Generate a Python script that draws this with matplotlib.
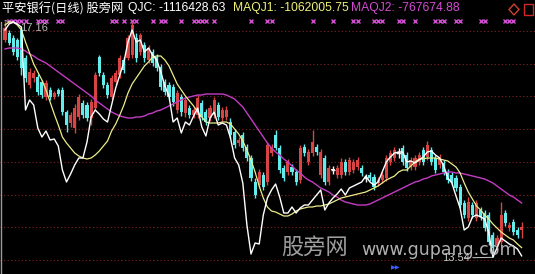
import matplotlib
matplotlib.use("Agg")
import matplotlib.pyplot as plt
import matplotlib.transforms as mtransforms
from matplotlib.lines import Line2D
from matplotlib.patches import Polygon, Rectangle
import numpy as np

# ---------------- data: 平安银行 daily bars ----------------
opens = [16.86, 16.97, 16.89, 16.86, 17.02, 16.59, 16.17, 16.28, 16.30, 16.22,
         15.99, 16.10, 15.99, 16.10, 16.10, 15.76, 15.59, 15.52, 15.69, 15.90,
         15.87, 15.67, 15.82, 16.60, 16.33, 16.17, 15.99, 16.22, 16.33, 16.56,
         16.59, 16.63, 16.89, 16.68, 16.79, 16.56, 16.68, 16.60, 16.45, 16.22,
         16.17, 16.14, 15.79, 15.99, 15.75, 15.82, 15.72, 15.72, 15.90, 15.76,
         15.67, 15.72, 15.87, 15.67, 15.69, 15.61, 15.46, 15.29, 15.41, 15.23,
         15.06, 14.69, 14.65, 14.80, 14.69, 15.13, 15.41, 15.21, 14.90, 14.84,
         14.92, 14.84, 14.72, 15.23, 15.00, 15.13, 15.23, 14.80, 15.06, 14.69,
         14.87, 14.80, 14.80, 15.00, 14.84, 14.87, 14.92, 14.90, 14.75, 14.80,
         14.77, 14.68, 14.72, 14.75, 15.00, 15.06, 15.13, 15.21, 15.10, 14.92,
         14.92, 15.00, 15.18, 15.07, 15.18, 15.06, 14.95, 14.98, 14.84, 14.80,
         14.75, 14.61, 14.37, 14.14, 14.34, 14.14, 14.26, 14.22, 14.19, 13.88,
         13.73, 13.77, 14.22, 13.99, 14.08, 13.96, 13.96]
highs = [17.16, 17.02, 16.94, 16.89, 17.06, 16.63, 16.43, 16.40, 16.34, 16.25,
         16.25, 16.14, 16.08, 16.13, 16.14, 15.79, 15.76, 15.88, 16.04, 15.94,
         15.91, 15.96, 16.37, 16.63, 16.37, 16.22, 16.33, 16.40, 16.63, 16.60,
         16.94, 17.14, 16.97, 16.97, 16.83, 16.79, 16.72, 16.65, 16.50, 16.27,
         16.22, 16.19, 16.10, 16.04, 15.99, 15.87, 15.84, 16.02, 15.94, 15.81,
         15.87, 15.99, 15.91, 15.84, 15.85, 15.67, 15.50, 15.38, 15.46, 15.27,
         15.10, 14.75, 14.89, 14.84, 15.30, 15.27, 15.49, 15.26, 14.95, 15.04,
         14.97, 14.89, 15.26, 15.27, 15.20, 15.49, 15.27, 15.20, 15.10, 14.95,
         14.94, 14.95, 15.06, 15.04, 15.07, 15.04, 15.07, 14.95, 14.81, 14.84,
         14.81, 14.77, 14.84, 15.10, 15.18, 15.23, 15.21, 15.26, 15.15, 15.07,
         15.10, 15.15, 15.23, 15.32, 15.23, 15.10, 15.12, 15.03, 14.89, 14.84,
         14.80, 14.66, 14.42, 14.46, 14.39, 14.42, 14.31, 14.26, 14.23, 13.93,
         13.88, 14.39, 14.26, 14.08, 14.13, 14.00, 14.08]
lows = [16.83, 16.79, 16.63, 16.56, 16.33, 16.22, 16.13, 16.22, 16.02, 15.98,
        15.94, 15.94, 15.96, 16.01, 15.72, 15.46, 15.53, 15.44, 15.64, 15.67,
        15.62, 15.56, 15.79, 16.31, 16.13, 15.98, 15.96, 16.17, 16.28, 16.36,
        16.56, 16.59, 16.53, 16.63, 16.53, 16.51, 16.46, 16.39, 16.10, 16.02,
        15.94, 15.85, 15.75, 15.70, 15.69, 15.67, 15.67, 15.67, 15.64, 15.56,
        15.62, 15.67, 15.64, 15.62, 15.64, 15.36, 15.21, 15.24, 15.16, 15.01,
        14.71, 14.45, 14.60, 14.57, 14.65, 15.09, 15.18, 14.83, 14.71, 14.80,
        14.80, 14.65, 14.68, 15.09, 14.95, 15.09, 15.10, 14.75, 14.65, 14.65,
        14.81, 14.75, 14.75, 14.80, 14.80, 14.83, 14.87, 14.78, 14.69, 14.71,
        14.57, 14.63, 14.68, 14.71, 14.95, 15.01, 15.06, 14.95, 14.86, 14.87,
        14.87, 14.95, 14.95, 15.03, 14.95, 14.83, 14.90, 14.80, 14.68, 14.65,
        14.55, 14.29, 14.14, 14.09, 14.14, 14.09, 14.11, 13.94, 13.73, 13.54,
        13.65, 13.73, 14.02, 13.94, 13.88, 13.84, 13.84]
closes = [17.05, 16.82, 16.68, 16.60, 16.43, 16.28, 16.37, 16.36, 16.07, 16.02,
          16.20, 15.99, 16.05, 16.04, 15.76, 15.56, 15.72, 15.82, 15.99, 15.72,
          15.67, 15.91, 16.33, 16.36, 16.17, 16.02, 16.28, 16.36, 16.59, 16.40,
          16.89, 17.09, 16.59, 16.94, 16.59, 16.74, 16.51, 16.43, 16.14, 16.07,
          15.99, 15.91, 16.05, 15.76, 15.94, 15.72, 15.79, 15.98, 15.69, 15.61,
          15.82, 15.94, 15.69, 15.79, 15.79, 15.41, 15.26, 15.33, 15.21, 15.06,
          14.75, 14.49, 14.84, 14.61, 15.26, 15.23, 15.21, 14.87, 14.75, 15.00,
          14.84, 14.69, 15.21, 15.13, 15.15, 15.30, 15.15, 15.15, 14.69, 14.90,
          14.87, 14.90, 15.00, 14.84, 15.03, 15.00, 15.03, 14.83, 14.75, 14.75,
          14.61, 14.72, 14.80, 15.06, 15.13, 15.18, 15.13, 15.00, 14.90, 15.03,
          15.06, 15.10, 15.00, 15.26, 15.00, 14.87, 15.07, 14.84, 14.72, 14.69,
          14.60, 14.34, 14.19, 14.39, 14.19, 14.37, 14.16, 13.99, 13.77, 13.68,
          13.84, 14.19, 14.06, 14.03, 13.93, 13.88, 14.00]

# indicator values, in units of 万 (1e4)
UNIT = 1e4
qjc = [37.41, 41.37, 42.69, 41.37, 39.39, -15.39, -8.79, -12.09, -27.27, -33.21,
       -29.25, -35.19, -34.53, -39.15, -54.99, -62.91, -57.63, -51.69, -47.07, -47.07,
       -36.51, -20.01, -15.39, -18.03, -21.33, -23.31, -12.09, -0.87, 7.71, 16.29,
       29.49, 37.41, 29.49, 30.81, 22.89, 25.53, 20.91, 17.61, 9.69, 0.45,
       -6.15, -23.31, -20.67, -30.57, -23.31, -25.29, -19.35, -14.07, -26.61, -32.55,
       -20.67, -16.71, -25.29, -23.97, -25.29, -33.87, -47.07, -51.69, -63.57, -91.29,
       -110.43, -103.17, -103.83, -84.69, -73.47, -68.19, -64.23, -72.81, -83.37, -83.37,
       -79.41, -83.37, -80.07, -78.09, -78.09, -74.79, -71.49, -68.19, -81.39, -76.77,
       -73.47, -70.83, -67.53, -71.49, -66.87, -65.55, -64.23, -62.91, -58.95, -62.91,
       -64.89, -62.91, -56.31, -49.71, -46.41, -43.77, -43.11, -43.11, -49.71, -49.05,
       -50.37, -48.39, -46.41, -43.11, -42.45, -45.09, -47.07, -52.35, -60.27, -63.57,
       -72.15, -80.07, -94.59, -92.61, -86.01, -84.69, -86.01, -87.33, -96.57, -112.41,
       -106.47, -99.87, -101.85, -103.83, -105.15, -107.13, -111.642863]
maqj1 = [40.71, 42.69, 42.69, 40.71, 37.41, 29.49, 22.23, 14.97, 9.69, 4.41,
         -2.19, -10.11, -18.03, -25.29, -33.21, -37.17, -40.47, -43.77, -45.75, -47.07,
         -47.73, -47.07, -45.09, -42.45, -39.15, -35.85, -29.25, -24.63, -18.69, -12.09,
         -4.17, 1.77, 5.73, 9.69, 13.65, 16.29, 19.59, 20.25, 20.25, 17.61,
         13.65, 7.71, 1.77, -2.19, -6.15, -9.45, -12.75, -16.71, -20.01, -23.31,
         -23.97, -23.97, -23.97, -23.31, -23.31, -24.63, -27.93, -31.23, -35.85, -41.79,
         -48.39, -56.31, -65.55, -73.47, -79.41, -82.05, -82.71, -84.03, -85.35, -85.35,
         -84.03, -82.05, -80.73, -80.07, -79.41, -79.41, -78.75, -78.75, -78.09, -77.43,
         -76.11, -74.79, -73.47, -72.81, -72.15, -71.49, -70.83, -70.17, -69.51, -68.19,
         -66.87, -65.55, -63.57, -61.59, -60.27, -58.95, -56.31, -54.99, -54.99, -52.35,
         -49.71, -47.73, -47.73, -47.07, -47.07, -47.07, -47.73, -48.39, -49.05, -51.03,
         -53.01, -56.97, -63.57, -69.51, -74.13, -78.75, -81.39, -84.69, -87.33, -90.63,
         -93.27, -95.91, -97.89, -99.87, -101.19, -103.83, -106.200575]
maqj2 = [24.87, 25.53, 25.53, 25.53, 24.87, 23.55, 21.57, 20.25, 18.27, 16.95,
         15.63, 13.65, 11.67, 9.69, 7.71, 5.73, 3.75, 1.77, -0.21, -2.19,
         -4.17, -6.15, -8.79, -10.77, -12.75, -14.73, -16.71, -18.03, -19.35, -20.01,
         -20.67, -20.67, -20.01, -20.01, -19.35, -18.03, -17.37, -16.05, -15.39, -14.07,
         -12.75, -11.43, -10.11, -8.79, -7.47, -6.81, -6.15, -5.49, -5.49, -4.83,
         -4.83, -4.83, -4.83, -4.83, -5.49, -6.81, -8.13, -10.77, -13.41, -17.37,
         -21.33, -25.29, -29.25, -33.21, -37.17, -40.47, -43.11, -45.09, -47.73, -49.71,
         -52.35, -54.99, -56.97, -59.61, -61.59, -62.91, -64.89, -66.87, -68.19, -69.51,
         -71.49, -72.81, -74.79, -76.11, -76.77, -77.43, -78.09, -78.09, -78.09, -77.43,
         -76.11, -74.79, -73.47, -72.15, -70.83, -69.51, -68.19, -66.87, -65.55, -64.23,
         -62.91, -62.25, -60.93, -60.27, -58.95, -58.29, -57.63, -56.97, -56.31, -56.31,
         -56.97, -56.97, -57.63, -58.29, -58.95, -59.61, -60.27, -60.93, -62.25, -63.57,
         -65.55, -67.53, -69.51, -71.49, -72.81, -74.79, -76.767488]

# bars on which the signal fires
signal_bars = [1, 2, 3, 4, 5, 8, 9, 10, 13, 14, 26, 27, 29, 31, 32, 36, 38, 39,
               43, 46, 47, 48, 49, 51, 60, 64, 65, 75, 80, 85, 86, 90, 91, 92,
               96, 97, 100, 105, 106, 107, 110, 111, 116, 117, 122, 123, 124]

grid_levels = [13.5, 14.0, 14.5, 15.0, 15.5, 16.0, 16.5, 17.0]

title_text = "平安银行(日线) 股旁网"

# ---------------- figure ----------------
W, H, DPI = 535, 274, 100
fig = plt.figure(figsize=(W / DPI, H / DPI), dpi=DPI, facecolor="black")


def fx(px):
    return px / W


def fy(py):
    return 1 - py / H


o = np.array(opens)
h = np.array(highs)
l = np.array(lows)
c = np.array(closes)
n = len(o)
idx = np.arange(n)

STEP, X0 = 4.1, 5.0
ax = fig.add_axes([0, 0, 1, 1])
ax.set_facecolor("black")
ax.set_xlim(-X0 / STEP, (W - X0) / STEP)
ax.set_ylim(13.285, 17.474)
for s in ax.spines.values():
    s.set_visible(False)
ax.set_xticks([])
ax.set_yticks([])

# dotted price grid
for g in grid_levels:
    ax.axhline(g, color="#842424", lw=0.8, ls=(0, (1, 2.2)), zorder=1)

UP, DOWN, FLAT = "#d84444", "#62ecec", "#f0f0f0"
colors = [UP if cc > oo else (DOWN if cc < oo else FLAT) for oo, cc in zip(o, c)]
ax.vlines(idx, l, h, colors=colors, lw=1.0, zorder=2)
body = np.maximum(np.abs(c - o), 0.014)
ax.bar(idx, body, bottom=np.minimum(o, c), width=0.74, color=colors,
       linewidth=0, zorder=3)
# doji bars drawn as short crosses
for i in idx[c == o]:
    ax.hlines(c[i], i - 0.55, i + 0.55, colors=FLAT, lw=1.0, zorder=3)

# signal crosses along the top
flag_tr = mtransforms.blended_transform_factory(ax.transData, ax.transAxes)
ax.plot(signal_bars, [fy(21)] * len(signal_bars), ls="none", marker="x",
        ms=3.4, mew=1.0, color="#d24cd2", transform=flag_tr, zorder=4)

# high / low markers
i_hi = int(np.argmax(h))
i_lo = int(np.argmin(l))
ax.annotate(f"{h[i_hi]:.2f}", xy=(i_hi, h[i_hi]), xytext=(20, H - 28),
            textcoords="figure pixels", color="#b8b8b8", fontsize=8,
            family="Liberation Sans", va="center", ha="left",
            arrowprops=dict(arrowstyle="-", color="#b8b8b8", lw=0.7,
                            shrinkA=0, shrinkB=0), zorder=6)
ax.annotate(f"{l[i_lo]:.2f}", xy=(i_lo, l[i_lo]), xytext=(470, H - 258),
            textcoords="figure pixels", color="#c8c8c8", fontsize=8,
            family="Liberation Sans", va="center", ha="right",
            arrowprops=dict(arrowstyle="-", color="#c8c8c8", lw=0.7,
                            shrinkA=0, shrinkB=0), zorder=6)

# indicator overlay on its own scale
ax2 = ax.twinx()
ax2.set_position([0, 0, 1, 1])
ax2.set_ylim(-123.63, 57.21)
ax2.set_axis_off()
ax2.plot(idx, maqj2, color="#c43cc4", lw=1.0)
ax2.plot(idx, maqj1, color="#ecec8a", lw=0.9)
ax2.plot(idx, qjc, color="white", lw=1.0)

# left frame line
fig.add_artist(Line2D([fx(1.5), fx(1.5)], [0, fy(22)], color="#9c9c9c", lw=1.0))

# header
cjk = ["Noto Sans CJK SC", "DejaVu Sans"]
lat = ["Liberation Sans", "DejaVu Sans"]
hy = fy(8.5)
fig.text(fx(2), hy, title_text, color="white", fontsize=8.8, family=cjk, va="center")
fig.text(fx(128), hy, f"QJC: {qjc[-1] * UNIT:.2f}", color="white",
         fontsize=8.7, family=lat, va="center")
fig.text(fx(233), hy, f"MAQJ1: {maqj1[-1] * UNIT:.2f}", color="#f0f07a",
         fontsize=8.7, family=lat, va="center")
fig.text(fx(351), hy, f"MAQJ2: {maqj2[-1] * UNIT:.2f}", color="#d24cd2",
         fontsize=8.7, family=lat, va="center")

# window buttons
fig.add_artist(Polygon([[fx(514), fy(4)], [fx(519), fy(9.5)], [fx(514), fy(15)],
                        [fx(509), fy(9.5)]], closed=True, fill=False,
                       edgecolor="#d04030", lw=1.0))
fig.add_artist(Rectangle((fx(524), fy(15)), fx(9), 11 / H, fill=False,
                         edgecolor="#d02828", lw=1.0))

# watermark
fig.text(fx(315), fy(247.5), "股旁网", color="#b0b0b0", fontsize=16,
         family=cjk, ha="center", va="center", alpha=0.9, zorder=10)
fig.text(fx(439), fy(255), "www.gupang.com", color="#c4c4c4", fontsize=12.5,
         family=["DejaVu Sans"], ha="center", va="baseline", alpha=0.9, zorder=10)

# small paging arrows at the bottom
fig.text(fx(396), fy(268), "▶▶", color="#3c5cff", fontsize=4.5,
         family=["DejaVu Sans"], ha="center", va="center")

fig.savefig("out.png", dpi=DPI, facecolor="black")
